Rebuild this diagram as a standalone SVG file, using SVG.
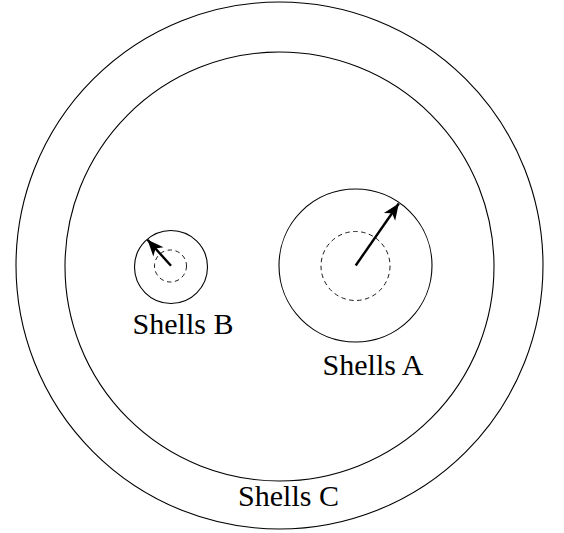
<svg xmlns="http://www.w3.org/2000/svg" width="564" height="533" viewBox="0 0 564 533">
<style>
.shell{fill:none;stroke:#000;stroke-width:1.1}
.dash{fill:none;stroke:#000;stroke-width:0.9;stroke-dasharray:4.5,3.5}
.arr{stroke:#000;stroke-width:2.4;fill:none}
.lbl{font-family:"Liberation Serif","Times New Roman",serif;font-size:30px;fill:#000;text-anchor:middle}
</style>
<defs>
<marker id="ah" markerUnits="userSpaceOnUse" markerWidth="20" markerHeight="20" refX="0" refY="0" viewBox="-14 -7 16 14" orient="auto">
<path d="M0,0 L-13,-5.5 L-9.5,0 L-13,5.5 Z" fill="#000"/>
</marker>
</defs>
<rect width="564" height="533" fill="#fff"/>
<g id="shellsC">
<circle class="shell" cx="279.5" cy="265.5" r="263.5"/>
<circle class="shell" cx="279.5" cy="266.5" r="214.5"/>
<text class="lbl" x="288.5" y="506">Shells C</text>
</g>
<g id="shellsA">
<circle class="shell" cx="355.5" cy="265.5" r="76.5"/>
<circle class="dash" cx="355.5" cy="266" r="34.5"/>
<text class="lbl" x="373" y="375">Shells A</text>
</g>
<g id="shellsB">
<circle class="shell" cx="171" cy="267" r="36.5"/>
<circle class="dash" cx="170.5" cy="266" r="16"/>
<text class="lbl" x="183" y="334">Shells B</text>
</g>
<g id="connectors">
<line class="arr" x1="355.7" y1="265.5" x2="398.8" y2="203.5" marker-end="url(#ah)"/>
<line class="arr" x1="171" y1="265.7" x2="147.5" y2="239.8" marker-end="url(#ah)"/>
</g>
</svg>
